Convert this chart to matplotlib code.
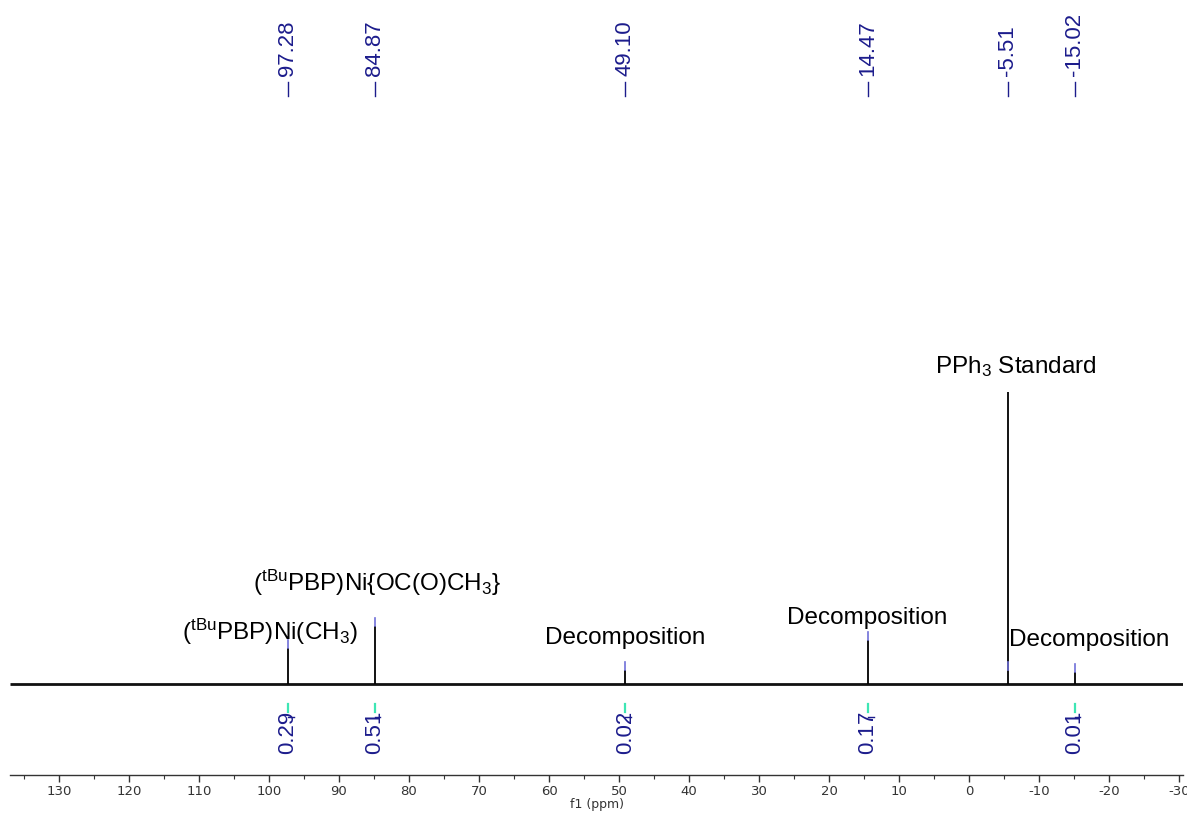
import matplotlib
matplotlib.use("Agg")
import matplotlib.pyplot as plt

plt.rcParams['font.family'] = ['Liberation Sans', 'DejaVu Sans']
plt.rcParams['mathtext.fontset'] = 'custom'
plt.rcParams['mathtext.rm'] = 'Liberation Sans'
plt.rcParams['mathtext.it'] = 'Liberation Sans:italic'
plt.rcParams['mathtext.bf'] = 'Liberation Sans:bold'

# 31P{1H} spectrum: picked peaks (ppm) and their intensities (arbitrary units)
peak_ppm = [97.28, 84.87, 49.10, 14.47, -5.51, -15.02]
peak_height = [36, 58, 14, 44, 292, 12]
peak_labels = ["97.28", "84.87", "49.10", "14.47", "-5.51", "-15.02"]

# integrated regions
integral_ppm = [97.28, 84.87, 49.10, 14.47, -15.02]
integral_values = ["0.29", "0.51", "0.02", "0.17", "0.01"]

# assignments: text, x (ppm), y (intensity units)
annotations = [
    (r"$(^{\mathrm{tBu}}$PBP)Ni(CH$_3$)", 99.8, 143),
    (r"$(^{\mathrm{tBu}}$PBP)Ni{OC(O)CH$_3$}", 84.6, 192),
    ("Decomposition", 49.1, 137),
    ("Decomposition", 14.55, 157),
    ("Decomposition", -17.1, 135),
    (r"PPh$_3$ Standard", -6.65, 408),
]

x_ticks = list(range(130, -31, -10))
x_minor = list(range(135, -31, -5))
x_lim = (136.96, -30.5)

baseline = 91
navy = "#1c1c8c"
cyan = "#3ee6b4"

fig = plt.figure(figsize=(11.87, 8.14), dpi=100)
ax = fig.add_axes([10 / 1187, 39 / 814, 1173 / 1187, 775 / 814])
ax.set_xlim(*x_lim)
ax.set_ylim(0, 775)

# baseline of the spectrum
ax.plot(x_lim, [baseline, baseline], color="#111111", lw=2.0, solid_capstyle="butt")
# peaks
ax.vlines(peak_ppm, baseline, [baseline + h for h in peak_height],
          color="black", lw=1.3)

# peak-pick markers and labels
for x, h, lab in zip(peak_ppm, peak_height, peak_labels):
    mb = baseline + (h if h < 100 else 14)
    ax.plot([x, x], [mb, mb + 8], color="#6f6fd8", lw=1.2)
    ax.plot([x, x], [679, 693], color=navy, lw=1.0)
    ax.text(x, 699, lab, rotation=90, ha="center", va="bottom",
            fontsize=16, color=navy)

# integral markers and values
for x, val in zip(integral_ppm, integral_values):
    ax.plot([x, x], [63, 71], color=cyan, lw=1.6)
    ax.plot([x, x - 0.8], [58, 58], color=navy, lw=1.0)
    ax.text(x, 64, val, rotation=90, ha="center", va="top",
            fontsize=16, color=navy)

# assignments
for txt, x, y in annotations:
    ax.text(x, y, txt, ha="center", va="center", fontsize=17.5, color="black")

for side in ("left", "right", "top"):
    ax.spines[side].set_visible(False)
ax.spines["bottom"].set_color("#333333")
ax.spines["bottom"].set_linewidth(1.0)
ax.set_yticks([])
ax.set_xticks(x_ticks)
ax.set_xticklabels([str(t) for t in x_ticks], family="DejaVu Sans",
                   fontsize=9.5, color="#333333")
ax.set_xticks(x_minor, minor=True)
ax.tick_params(axis="x", which="major", direction="out", length=5,
               width=1.0, color="#333333", pad=2)
ax.tick_params(axis="x", which="minor", direction="out", length=3,
               width=0.8, color="#333333")
ax.set_xlabel("f1 (ppm)", family="DejaVu Sans", fontsize=9,
              color="#333333", labelpad=0)

fig.savefig("out.png", dpi=100)
